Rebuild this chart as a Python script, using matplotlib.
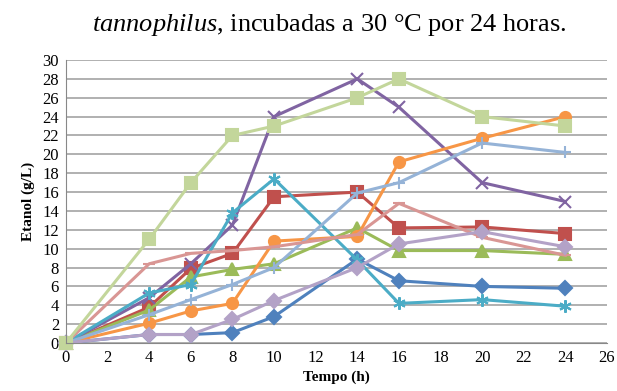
import matplotlib
matplotlib.use("Agg")
import matplotlib.pyplot as plt

plt.rcParams['font.family'] = ['Liberation Serif', 'DejaVu Serif']
plt.rcParams['mathtext.fontset'] = 'custom'
plt.rcParams['mathtext.rm'] = 'Liberation Serif'
plt.rcParams['mathtext.it'] = 'Liberation Serif:italic'

# Tempo (h)
tempo = [0, 4, 6, 8, 10, 14, 16, 20, 24]

# Etanol (g/L) per series
s_azul = [0, 0.9, 0.9, 1.1, 2.8, 8.9, 6.6, 6.0, 5.8]
s_vermelho = [0, 3.8, 7.9, 9.5, 15.5, 16.0, 12.2, 12.3, 11.6]
s_verde = [0, 3.5, 7.0, 7.8, 8.4, 12.2, 9.8, 9.8, 9.4]
s_roxo = [0, 4.8, 8.4, 12.5, 24.0, 28.0, 25.0, 17.0, 15.0]
s_ciano = [0, 5.3, 6.2, 13.8, 17.4, 8.8, 4.2, 4.6, 3.9]
s_laranja = [0, 2.1, 3.4, 4.2, 10.8, 11.3, 19.2, 21.7, 24.0]
s_azul_claro = [0, 3.0, 4.6, 6.2, 8.0, 15.9, 17.0, 21.2, 20.2]
s_rosa = [0, 8.4, 9.5, 9.8, 10.2, 11.5, 14.8, 11.2, 9.3]
s_lilas = [0, 0.9, 0.9, 2.5, 4.5, 8.0, 10.5, 11.8, 10.2]
s_verde_claro = [0, 11.0, 17.0, 22.0, 23.0, 26.0, 28.0, 24.0, 23.0]

series = [
    (s_azul, '#4F81BD', 'D', 7),
    (s_vermelho, '#C0504D', 's', 8),
    (s_verde, '#9BBB59', '^', 8),
    (s_roxo, '#8064A2', 'x', 8),
    (s_ciano, '#4BACC6', (6, 2, 0), 9),
    (s_laranja, '#F79646', 'o', 8),
    (s_azul_claro, '#95B3D7', '+', 9),
    (s_rosa, '#D99694', '_', 8),
    (s_lilas, '#B3A2C7', 'D', 7),
    (s_verde_claro, '#C3D69B', 's', 9),
]

fig = plt.figure(figsize=(6.17, 3.91), dpi=100)
ax = fig.add_axes([66 / 617, 48 / 391, 541 / 617, 283 / 391])

for vals, color, marker, ms in series:
    ax.plot(tempo, vals, color=color, marker=marker, markersize=ms,
            linewidth=2.2, markeredgewidth=1.5, markeredgecolor=color,
            clip_on=False)

ax.set_xlim(0, 26)
ax.set_ylim(0, 30)
ax.set_xticks(range(0, 27, 2))
ax.set_yticks(range(0, 31, 2))
ax.tick_params(labelsize=12, length=0, pad=5)
ax.yaxis.grid(True, color='#aaaaaa', linewidth=1.3)
ax.set_axisbelow(True)
for side in ['top', 'right']:
    ax.spines[side].set_visible(False)
ax.spines['left'].set_color('#888888')
ax.spines['bottom'].set_color('#888888')

ax.set_xlabel('Tempo (h)', fontsize=11, fontweight='bold', labelpad=3)
ax.set_ylabel('Etanol (g/L)', fontsize=11, fontweight='bold', labelpad=5)

fig.text(0.533, 0.935, r'$\mathit{tannophilus}$, incubadas a 30 °C por 24 horas.',
         ha='center', va='center', fontsize=19)

fig.savefig('out.png', dpi=100)
